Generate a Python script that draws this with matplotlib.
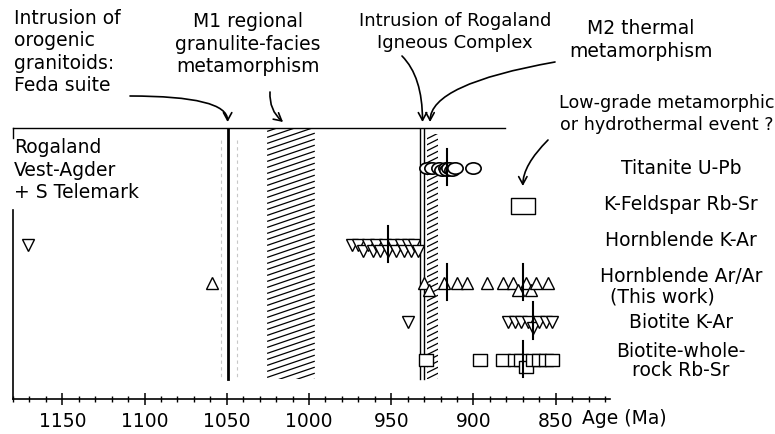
import numpy as np
import matplotlib
matplotlib.use("Agg")
import matplotlib.pyplot as plt
from matplotlib.path import Path
from matplotlib.transforms import Affine2D
from matplotlib.patches import Rectangle
from matplotlib.collections import LineCollection

# ---------------- data ----------------
row_labels = ["Titanite U-Pb", "K-Feldspar Rb-Sr", "Hornblende K-Ar",
              "Hornblende Ar/Ar", "Biotite K-Ar", "Biotite-whole-\nrock Rb-Sr"]
titanite_upb = [928, 925, 921, 919, 917, 916, 915, 913, 911, 900]
kfeldspar_rbsr = [870]
hornblende_kar = [1171, 974, 970, 967, 964, 961, 959, 957, 954, 952, 949,
                  947, 944, 942, 940, 938, 936, 934]
hornblende_arar = [1059, 930, 927, 918, 910, 904, 892, 882, 876, 873, 868,
                   865, 862, 855]
biotite_kar = [940, 879, 875, 871, 867, 864, 860, 856, 852]
biotite_wr_rbsr = [929, 896, 882, 875, 871, 868, 864, 860, 856, 852]
# mean ages (short vertical bars) per row index
mean_bars = [(0, 916), (2, 952), (3, 916), (3, 870), (4, 864), (5, 870)]
# events
feda_age = 1049.5
m1_range = (1025.5, 996.5)
ric_ages = (932.5, 930.0)
m2_range = (928.5, 921.5)
tick_majors = [1150, 1100, 1050, 1000, 950, 900, 850]

# ---------------- figure ----------------
W, H = 775, 434
fig = plt.figure(figsize=(W / 100, H / 100), dpi=100)
FONT = "DejaVu Sans"
FS = 13.5
plt.rcParams["font.family"] = [FONT]


def fx(x):
    return x / W


def fy(y):
    return 1 - y / H


ax_top_px, ax_bot_px = 128, 399
ax = fig.add_axes([fx(13), fy(ax_bot_px), (610 - 13) / W, (ax_bot_px - ax_top_px) / H])
ax.set_xlim(1180, 817)
YTOP, YBOT = -1.042, 6.016
ax.set_ylim(YBOT, YTOP)
ax.patch.set_alpha(0)

for s in ["top", "right"]:
    ax.spines[s].set_visible(False)
ax.spines["left"].set_bounds(YBOT, 1.09)
ax.spines["left"].set_linewidth(1.2)
ax.spines["bottom"].set_linewidth(1.2)
ax.set_yticks([])
ax.set_xticks(tick_majors)
ax.set_xticks(np.arange(1180, 816, -10), minor=True)
ax.tick_params(axis="x", which="major", direction="inout", length=9, width=1.1,
               labelsize=FS, pad=5)
ax.tick_params(axis="x", which="minor", direction="inout", length=5, width=1.0)

# top line
ax.plot([1180, 881], [YTOP, YTOP], color="black", lw=1.0, clip_on=False)
ax.plot([1180, 1180], [YTOP, YTOP + 0.25], color="black", lw=1.0, clip_on=False)

LINE_BOTTOM = 5.5
# Feda line
ax.plot([feda_age, feda_age], [YTOP, LINE_BOTTOM], color="black", lw=2.0)
for v in (1053.5, 1044):
    ax.plot([v, v], [YTOP + 0.3, LINE_BOTTOM], color="#c8c8c8", lw=0.8, ls=(0, (3, 3)))
# RIC double line
for v in ric_ages:
    ax.plot([v, v], [YTOP, LINE_BOTTOM], color="black", lw=1.0)


def hatch_band(x0, x1, y0, y1, spacing=6.0, slope=0.34):
    rect = Rectangle((x1, y0), x0 - x1, y1 - y0, fill=False, lw=0,
                     transform=ax.transData)
    ax.add_patch(rect)
    T = ax.transData
    (X0, Y0), (X1, Y1) = T.transform([(x0, y1), (x1, y0)])
    Xa, Xb = min(X0, X1), max(X0, X1)
    Ya, Yb = min(Y0, Y1), max(Y0, Y1)
    segs = []
    c = Ya - slope * (Xb - Xa)
    while c < Yb:
        p = T.inverted().transform([(Xa, c), (Xb, c + slope * (Xb - Xa))])
        segs.append(p)
        c += spacing
    lc = LineCollection(segs, colors="black", linewidths=0.9)
    ax.add_collection(lc)
    lc.set_clip_path(rect)


hatch_band(m1_range[0], m1_range[1], YTOP, LINE_BOTTOM)
hatch_band(m2_range[0], m2_range[1], YTOP + 0.15, LINE_BOTTOM, spacing=6.0, slope=0.5)

# markers
ellipse = Path.unit_circle().transformed(Affine2D().scale(1.35, 1.0))
rect_w = Path.unit_rectangle().transformed(Affine2D().translate(-0.5, -0.5).scale(1.5, 1.0))
rect_s = Path.unit_rectangle().transformed(Affine2D().translate(-0.5, -0.5).scale(1.15, 1.0))


def stagger(vals, gap=3.5, off=0.17):
    out = []
    prev = None
    flip = False
    for v in vals:
        if prev is not None and abs(v - prev) < gap:
            flip = not flip
        else:
            flip = False
        out.append(off if flip else 0.0)
        prev = v
    return np.array(out)


def draw_row(vals, row, marker, ms, gap=3.5, off=0.17, mew=1.0):
    vals = np.asarray(vals, dtype=float)
    ys = row + stagger(vals, gap, off)
    ax.plot(vals, ys, ls="none", marker=marker, ms=ms, mfc="white", mec="black",
            mew=mew, zorder=3)


draw_row(titanite_upb, 0, ellipse, 11, gap=3, off=0.04, mew=1.2)
draw_row(kfeldspar_rbsr, 1, rect_w, 17)
draw_row(hornblende_kar, 2, "v", 9.0)
draw_row(hornblende_arar, 3, "^", 9.0)
draw_row(biotite_kar, 4, "v", 9.0)
draw_row(biotite_wr_rbsr, 5, rect_s, 9.5)

for r, v in mean_bars:
    ax.plot([v, v], [r - 0.5, r + 0.45], color="black", lw=1.5, zorder=4)

# ---------------- texts ----------------
def txt(x, y, s, ha="left", ls=1.22, fs=FS):
    fig.text(fx(x), fy(y), s, ha=ha, va="center", fontsize=fs, linespacing=ls)


txt(14, 52, "Intrusion of\norogenic\ngranitoids:\nFeda suite")
txt(455, 32, "Intrusion of Rogaland\nIgneous Complex", ha="center", fs=13.0)
txt(248, 44, "M1 regional\ngranulite-facies\nmetamorphism", ha="center")
txt(641, 40, "M2 thermal\nmetamorphism", ha="center")
txt(667, 114, "Low-grade metamorphic\nor hydrothermal event ?", ha="center", fs=12.6,
    ls=1.26)
txt(14, 170, "Rogaland\nVest-Agder\n+ S Telemark")

row_px = [168, 205, 241, 276, 323, 361]
for lab, y in zip(row_labels, row_px):
    txt(681, y, lab, ha="center", ls=1.0)
txt(662, 297, "(This work)", ha="center")
txt(582, 418, "Age (Ma)")

# ---------------- arrows ----------------
akw = dict(arrowstyle="->,head_length=0.55,head_width=0.3", color="black", lw=1.2,
           shrinkA=0, shrinkB=0)


def arrow(x_val, y_tip, start, conn):
    ax.annotate("", xy=(x_val, H - y_tip), xycoords=("data", "figure pixels"),
                xytext=(start[0], H - start[1]), textcoords="figure pixels",
                arrowprops=dict(connectionstyle=conn, **akw), annotation_clip=False)


arrow(feda_age, 122, (130, 96), "angle3,angleA=0,angleB=90")
arrow(1015.8, 122, (270, 92), "arc3,rad=0.25")
arrow(931.0, 122, (402, 56), "angle3,angleA=-45,angleB=90")
arrow(926.4, 122, (555, 62), "angle3,angleA=-170,angleB=90")
arrow(870, 186, (548, 140), "angle3,angleA=45,angleB=90")

fig.savefig("out.png", dpi=100)
